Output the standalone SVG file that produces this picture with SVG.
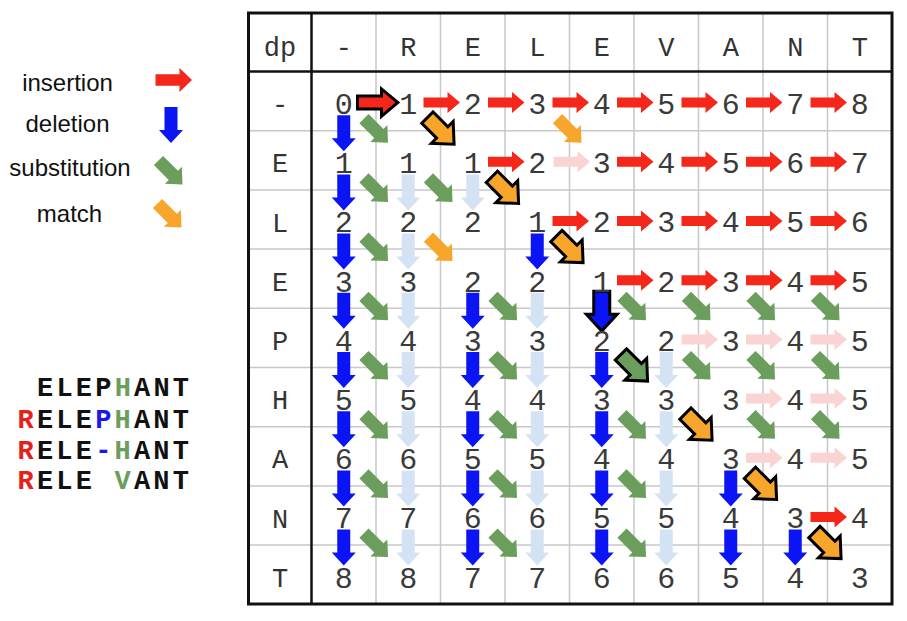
<svg xmlns="http://www.w3.org/2000/svg" width="907" height="621" viewBox="0 0 907 621">
<style>
.g{stroke:#c8c8c8;stroke-width:1.5;fill:none}
.k{stroke:#111;stroke-width:2.5;fill:none}
.hd{font-family:"Liberation Mono","Courier New",monospace;font-size:27px;fill:#333;text-anchor:middle}
.n{font-family:"Liberation Mono","Courier New",monospace;font-size:30px;fill:#3a3a3a;text-anchor:middle}
.lg{font-family:"Liberation Sans",Arial,sans-serif;font-size:24px;fill:#111;text-anchor:middle}
.sq{font-family:"Liberation Mono","Courier New",monospace;font-size:27px;font-weight:bold;fill:#111;letter-spacing:3.2px}
.ins{fill:#f5261a}.pin{fill:#fad3d3}.del{fill:#0a14f5}.lbl{fill:#d3e3f3}.sub{fill:#6b9e5c}.mat{fill:#f8a52c}
.ol{stroke:#000;stroke-width:6;paint-order:stroke;stroke-linejoin:miter}
</style>
<defs>
<path id="ah" d="M-18,-5 H6 V-10.5 L18.5,0 L6,10.5 V5 H-18 Z"/>
<path id="av" d="M-6.5,-18 H6.5 V5 H12 L0,18 L-12,5 H-6.5 Z"/>
<path id="ad" transform="rotate(45)" d="M-17,-6.5 H4 V-12 L17,0 L4,12 V6.5 H-17 Z"/>
</defs>
<rect width="907" height="621" fill="#fff"/>

<g id="legend">
<text class="lg" x="67.5" y="91">insertion</text>
<text class="lg" x="67.5" y="132">deletion</text>
<text class="lg" x="70" y="176">substitution</text>
<text class="lg" x="69.5" y="222">match</text>
<use href="#ah" class="ins" transform="translate(173.5,80) scale(1,1.15)"/>
<use href="#av" class="del" x="171" y="125"/>
<use href="#ad" class="sub" x="170.5" y="172.5"/>
<use href="#ad" class="mat" x="169.5" y="215.5"/>
</g>

<g id="alignment">
<text class="sq" x="37" y="396">ELEP<tspan fill="#6b9e5c">H</tspan>ANT</text>
<text class="sq" x="17.5" y="427.5"><tspan fill="#e8201a">R</tspan>ELE<tspan fill="#1a1ae6">P</tspan><tspan fill="#6b9e5c">H</tspan>ANT</text>
<text class="sq" x="17.5" y="458.5"><tspan fill="#e8201a">R</tspan>ELE<tspan fill="#1a1ae6">-</tspan><tspan fill="#6b9e5c">H</tspan>ANT</text>
<text class="sq" x="17.5" y="489" xml:space="preserve"><tspan fill="#e8201a">R</tspan>ELE <tspan fill="#6b9e5c">V</tspan>ANT</text>
</g>

<g id="grid">
<path class="g" d="M376,13V604M440.5,13V604M505,13V604M569.5,13V604M634,13V604M698.5,13V604M763,13V604M827.5,13V604"/>
<path class="g" d="M248,130.7H892M248,189.9H892M248,249.1H892M248,308.3H892M248,367.5H892M248,426.7H892M248,485.9H892M248,545.1H892"/>
<path class="k" d="M311.5,13V604M248,71.5H892"/>
<rect x="248.5" y="13" width="643.5" height="591" fill="none" stroke="#111" stroke-width="3"/>
</g>

<g id="connectors">
<use href="#ah" class="pin" x="571.5" y="161.8"/>
<use href="#ah" class="pin" x="699.5" y="339.4"/>
<use href="#ah" class="pin" x="764" y="339.4"/>
<use href="#ah" class="pin" x="828.5" y="339.4"/>
<use href="#ah" class="pin" x="764" y="398.6"/>
<use href="#ah" class="pin" x="828.5" y="398.6"/>
<use href="#ah" class="pin" x="764" y="457.8"/>
<use href="#ah" class="pin" x="828.5" y="457.8"/>
<use href="#av" class="lbl" x="408.25" y="192.4"/>
<use href="#av" class="lbl" x="408.25" y="251.6"/>
<use href="#av" class="lbl" x="408.25" y="310.8"/>
<use href="#av" class="lbl" x="408.25" y="370"/>
<use href="#av" class="lbl" x="408.25" y="429.2"/>
<use href="#av" class="lbl" x="408.25" y="488.4"/>
<use href="#av" class="lbl" x="408.25" y="547.6"/>
<use href="#av" class="lbl" x="472.75" y="192.4"/>
<use href="#av" class="lbl" x="537.25" y="310.8"/>
<use href="#av" class="lbl" x="537.25" y="370"/>
<use href="#av" class="lbl" x="537.25" y="429.2"/>
<use href="#av" class="lbl" x="537.25" y="488.4"/>
<use href="#av" class="lbl" x="537.25" y="547.6"/>
<use href="#av" class="lbl" x="666.25" y="370"/>
<use href="#av" class="lbl" x="666.25" y="429.2"/>
<use href="#av" class="lbl" x="666.25" y="488.4"/>
<use href="#av" class="lbl" x="666.25" y="547.6"/>
<use href="#ah" class="ins" x="441.5" y="102.6"/>
<use href="#ah" class="ins" x="506" y="102.6"/>
<use href="#ah" class="ins" x="570.5" y="102.6"/>
<use href="#ah" class="ins" x="635" y="102.6"/>
<use href="#ah" class="ins" x="699.5" y="102.6"/>
<use href="#ah" class="ins" x="764" y="102.6"/>
<use href="#ah" class="ins" x="828.5" y="102.6"/>
<use href="#ah" class="ins" x="506" y="161.8"/>
<use href="#ah" class="ins" x="635" y="161.8"/>
<use href="#ah" class="ins" x="699.5" y="161.8"/>
<use href="#ah" class="ins" x="764" y="161.8"/>
<use href="#ah" class="ins" x="828.5" y="161.8"/>
<use href="#ah" class="ins" x="570.5" y="221"/>
<use href="#ah" class="ins" x="635" y="221"/>
<use href="#ah" class="ins" x="699.5" y="221"/>
<use href="#ah" class="ins" x="764" y="221"/>
<use href="#ah" class="ins" x="828.5" y="221"/>
<use href="#ah" class="ins" x="635" y="280.2"/>
<use href="#ah" class="ins" x="699.5" y="280.2"/>
<use href="#ah" class="ins" x="764" y="280.2"/>
<use href="#ah" class="ins" x="828.5" y="280.2"/>
<use href="#ah" class="ins" x="828.5" y="517"/>
<use href="#av" class="del" x="343.75" y="133.2"/>
<use href="#av" class="del" x="343.75" y="192.4"/>
<use href="#av" class="del" x="343.75" y="251.6"/>
<use href="#av" class="del" x="343.75" y="310.8"/>
<use href="#av" class="del" x="343.75" y="370"/>
<use href="#av" class="del" x="343.75" y="429.2"/>
<use href="#av" class="del" x="343.75" y="488.4"/>
<use href="#av" class="del" x="343.75" y="547.6"/>
<use href="#av" class="del" x="537.25" y="251.6"/>
<use href="#av" class="del" x="472.75" y="310.8"/>
<use href="#av" class="del" x="472.75" y="370"/>
<use href="#av" class="del" x="472.75" y="429.2"/>
<use href="#av" class="del" x="472.75" y="488.4"/>
<use href="#av" class="del" x="472.75" y="547.6"/>
<use href="#av" class="del" x="601.75" y="370"/>
<use href="#av" class="del" x="601.75" y="429.2"/>
<use href="#av" class="del" x="601.75" y="488.4"/>
<use href="#av" class="del" x="601.75" y="547.6"/>
<use href="#av" class="del" x="730.75" y="488.4"/>
<use href="#av" class="del" x="730.75" y="547.6"/>
<use href="#av" class="del" x="795.25" y="547.6"/>
<use href="#ad" class="sub" x="376" y="130.7"/>
<use href="#ad" class="sub" x="376" y="189.9"/>
<use href="#ad" class="sub" x="440.5" y="189.9"/>
<use href="#ad" class="sub" x="376" y="249.1"/>
<use href="#ad" class="sub" x="376" y="308.3"/>
<use href="#ad" class="sub" x="505" y="308.3"/>
<use href="#ad" class="sub" x="634" y="308.3"/>
<use href="#ad" class="sub" x="698.5" y="308.3"/>
<use href="#ad" class="sub" x="763" y="308.3"/>
<use href="#ad" class="sub" x="827.5" y="308.3"/>
<use href="#ad" class="sub" x="376" y="367.5"/>
<use href="#ad" class="sub" x="505" y="367.5"/>
<use href="#ad" class="sub" x="698.5" y="367.5"/>
<use href="#ad" class="sub" x="763" y="367.5"/>
<use href="#ad" class="sub" x="827.5" y="367.5"/>
<use href="#ad" class="sub" x="376" y="426.7"/>
<use href="#ad" class="sub" x="505" y="426.7"/>
<use href="#ad" class="sub" x="634" y="426.7"/>
<use href="#ad" class="sub" x="763" y="426.7"/>
<use href="#ad" class="sub" x="827.5" y="426.7"/>
<use href="#ad" class="sub" x="376" y="485.9"/>
<use href="#ad" class="sub" x="505" y="485.9"/>
<use href="#ad" class="sub" x="634" y="485.9"/>
<use href="#ad" class="sub" x="376" y="545.1"/>
<use href="#ad" class="sub" x="505" y="545.1"/>
<use href="#ad" class="sub" x="634" y="545.1"/>
<use href="#ad" class="mat" x="569.5" y="130.7"/>
<use href="#ad" class="mat" x="440.5" y="249.1"/>
<use href="#ah" class="ins ol" x="377" y="102.6"/>
<use href="#ad" class="mat ol" x="440.5" y="130.7"/>
<use href="#ad" class="mat ol" x="505" y="189.9"/>
<use href="#ad" class="mat ol" x="569.5" y="249.1"/>
<use href="#av" class="del ol" x="601.75" y="310.8"/>
<use href="#ad" class="sub ol" x="634" y="367.5"/>
<use href="#ad" class="mat ol" x="698.5" y="426.7"/>
<use href="#ad" class="mat ol" x="763" y="485.9"/>
<use href="#ad" class="mat ol" x="827.5" y="545.1"/>
</g>

<g id="header">
<text class="hd" x="280" y="56">dp</text>
<text class="hd" x="343.75" y="56">-</text>
<text class="hd" x="408.25" y="56">R</text>
<text class="hd" x="472.75" y="56">E</text>
<text class="hd" x="537.25" y="56">L</text>
<text class="hd" x="601.75" y="56">E</text>
<text class="hd" x="666.25" y="56">V</text>
<text class="hd" x="730.75" y="56">A</text>
<text class="hd" x="795.25" y="56">N</text>
<text class="hd" x="859.75" y="56">T</text>
<text class="hd" x="280" y="113.1">-</text>
<text class="hd" x="280" y="172.3">E</text>
<text class="hd" x="280" y="231.5">L</text>
<text class="hd" x="280" y="290.7">E</text>
<text class="hd" x="280" y="349.9">P</text>
<text class="hd" x="280" y="409.1">H</text>
<text class="hd" x="280" y="468.3">A</text>
<text class="hd" x="280" y="527.5">N</text>
<text class="hd" x="280" y="586.7">T</text>
</g>

<g id="row0" class="n"><text x="343.75" y="114">0</text><text x="408.25" y="114">1</text><text x="472.75" y="114">2</text><text x="537.25" y="114">3</text><text x="601.75" y="114">4</text><text x="666.25" y="114">5</text><text x="730.75" y="114">6</text><text x="795.25" y="114">7</text><text x="859.75" y="114">8</text></g>
<g id="row1" class="n"><text x="343.75" y="173.2">1</text><text x="408.25" y="173.2">1</text><text x="472.75" y="173.2">1</text><text x="537.25" y="173.2">2</text><text x="601.75" y="173.2">3</text><text x="666.25" y="173.2">4</text><text x="730.75" y="173.2">5</text><text x="795.25" y="173.2">6</text><text x="859.75" y="173.2">7</text></g>
<g id="row2" class="n"><text x="343.75" y="232.4">2</text><text x="408.25" y="232.4">2</text><text x="472.75" y="232.4">2</text><text x="537.25" y="232.4">1</text><text x="601.75" y="232.4">2</text><text x="666.25" y="232.4">3</text><text x="730.75" y="232.4">4</text><text x="795.25" y="232.4">5</text><text x="859.75" y="232.4">6</text></g>
<g id="row3" class="n"><text x="343.75" y="291.6">3</text><text x="408.25" y="291.6">3</text><text x="472.75" y="291.6">2</text><text x="537.25" y="291.6">2</text><text x="601.75" y="291.6">1</text><text x="666.25" y="291.6">2</text><text x="730.75" y="291.6">3</text><text x="795.25" y="291.6">4</text><text x="859.75" y="291.6">5</text></g>
<g id="row4" class="n"><text x="343.75" y="350.8">4</text><text x="408.25" y="350.8">4</text><text x="472.75" y="350.8">3</text><text x="537.25" y="350.8">3</text><text x="601.75" y="350.8">2</text><text x="666.25" y="350.8">2</text><text x="730.75" y="350.8">3</text><text x="795.25" y="350.8">4</text><text x="859.75" y="350.8">5</text></g>
<g id="row5" class="n"><text x="343.75" y="410">5</text><text x="408.25" y="410">5</text><text x="472.75" y="410">4</text><text x="537.25" y="410">4</text><text x="601.75" y="410">3</text><text x="666.25" y="410">3</text><text x="730.75" y="410">3</text><text x="795.25" y="410">4</text><text x="859.75" y="410">5</text></g>
<g id="row6" class="n"><text x="343.75" y="469.2">6</text><text x="408.25" y="469.2">6</text><text x="472.75" y="469.2">5</text><text x="537.25" y="469.2">5</text><text x="601.75" y="469.2">4</text><text x="666.25" y="469.2">4</text><text x="730.75" y="469.2">3</text><text x="795.25" y="469.2">4</text><text x="859.75" y="469.2">5</text></g>
<g id="row7" class="n"><text x="343.75" y="528.4">7</text><text x="408.25" y="528.4">7</text><text x="472.75" y="528.4">6</text><text x="537.25" y="528.4">6</text><text x="601.75" y="528.4">5</text><text x="666.25" y="528.4">5</text><text x="730.75" y="528.4">4</text><text x="795.25" y="528.4">3</text><text x="859.75" y="528.4">4</text></g>
<g id="row8" class="n"><text x="343.75" y="587.6">8</text><text x="408.25" y="587.6">8</text><text x="472.75" y="587.6">7</text><text x="537.25" y="587.6">7</text><text x="601.75" y="587.6">6</text><text x="666.25" y="587.6">6</text><text x="730.75" y="587.6">5</text><text x="795.25" y="587.6">4</text><text x="859.75" y="587.6">3</text></g>
</svg>
